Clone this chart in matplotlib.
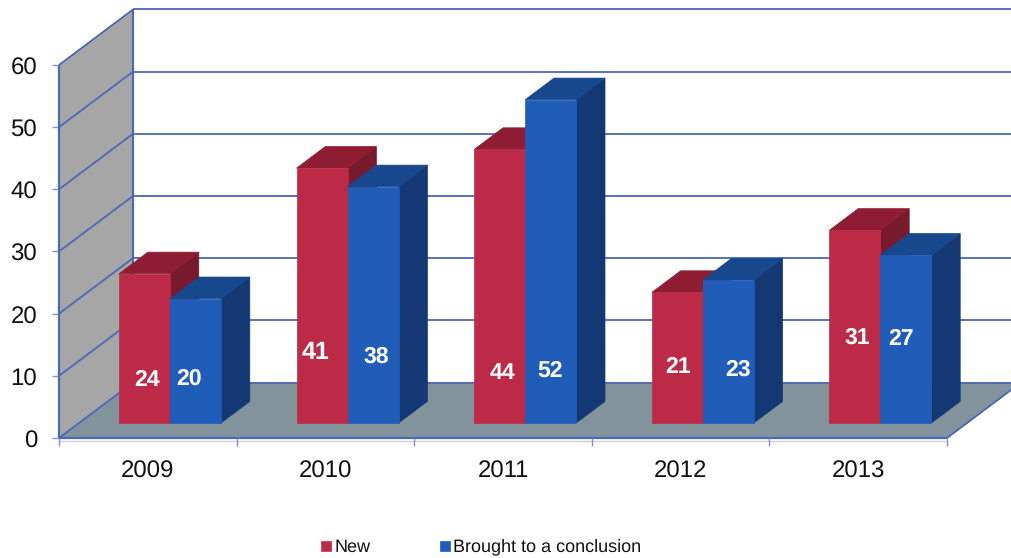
import matplotlib
matplotlib.use('Agg')
import matplotlib.pyplot as plt

plt.rcParams['font.family'] = ['Liberation Sans', 'DejaVu Sans']
plt.rcParams['text.hinting'] = 'no_hinting'
plt.rcParams['text.hinting_factor'] = 1

years = ['2009', '2010', '2011', '2012', '2013']
new_vals = [24, 41, 44, 21, 31]
concl_vals = [20, 38, 52, 23, 27]
y_ticks = [0, 10, 20, 30, 40, 50, 60]
legend_names = ['New', 'Brought to a conclusion']

# picture layout, in pixels
W, H = 1011, 558
X0, Y0 = 59, 438
CAT_W = 177.6
UNIT = 6.217
DEPTH_X, DEPTH_Y = 74.0, 55.5

# label centres in pixels, the original has them hand placed
new_label_px = [(147, 380), (316, 353), (502, 373), (678, 367), (857, 338)]
concl_label_px = [(189, 379), (376, 357), (550, 371), (738, 370), (901, 339)]

LINE = '#4A68B8'
WALL = '#A6A6A6'
FLOOR = '#82939B'
RED = ('#BC2A47', '#8E1D33', '#781A2E')
BLUE = ('#205DB8', '#17478C', '#133873')

fig = plt.figure(figsize=(W / 100, H / 100), dpi=100)
ax = fig.add_axes([0, 0, 1, 1])
ax.set_xlim(-X0 / CAT_W, (W - X0) / CAT_W)
ax.set_ylim(-(H - Y0) / UNIT, Y0 / UNIT)
ax.axis('off')


def pt(x, y, d=0.0):
    # x in categories, y in chart values, d is depth 0..1 into the chart
    return (x + d * DEPTH_X / CAT_W, y + d * DEPTH_Y / UNIT)


def px(x, y):
    return ((x - X0) / CAT_W, (Y0 - y) / UNIT)


def poly(points, color, z=1, edge=None):
    xs = [p[0] for p in points]
    ys = [p[1] for p in points]
    ax.fill(xs, ys, facecolor=color, edgecolor=edge if edge else color, lw=0.5, zorder=z)


def line(a, b, z=2, lw=1.5, color=LINE):
    ax.plot([a[0], b[0]], [a[1], b[1]], color=color, lw=lw, zorder=z, solid_capstyle='butt')


n = len(years)
top = max(y_ticks)
far = 6.0

# walls and floor
poly([pt(0, 0), pt(0, top), pt(0, top, 1), pt(0, 0, 1)], WALL)
poly([pt(0, 0), pt(n, 0), pt(n, 0, 1), pt(far, 0, 1), pt(0, 0, 1)], FLOOR)

for v in y_ticks:
    line(pt(0, v), pt(0, v, 1), lw=1.3)
    line(pt(0, v, 1), pt(far, v, 1), lw=1.3)
    line(pt(-7 / CAT_W, v), pt(0, v), lw=1.0, color='#7F93CC')
    ax.text(px(37, 0)[0], v - 3.5 / UNIT, str(v), ha='right', va='center', fontsize=17, color='#111111', zorder=5)

line(pt(0, 0), pt(0, top), lw=1.6)
line(pt(0, 0, 1), pt(0, top, 1), lw=1.5)
line(pt(0, 0), pt(n, 0), lw=1.6)
line(pt(n, 0), pt(n, 0, 1), lw=1.3)
ax.plot([0, n], [-0.45, -0.45], color='#D0D0D0', lw=1.0, zorder=1)

for i in range(n + 1):
    line((i, 0), (i, -8 / UNIT), lw=1.0, color='#7F93CC')

for i, y in enumerate(years):
    ax.text(i + 0.5, px(0, 472)[1], y, ha='center', va='center', fontsize=17, color='#111111', zorder=5)

# bars
D_FRONT = 0.27
D_BACK = 0.66
BAR_W = 51 / CAT_W


def bar(x, val, colors):
    front, roof, side = colors
    d0, d1 = D_FRONT, D_BACK
    poly([pt(x + BAR_W, 0, d0), pt(x + BAR_W, val, d0), pt(x + BAR_W, val, d1), pt(x + BAR_W, 0, d1)], side, z=3)
    poly([pt(x, val, d0), pt(x + BAR_W, val, d0), pt(x + BAR_W, val, d1), pt(x, val, d1)], roof, z=3)
    poly([pt(x, 0, d0), pt(x + BAR_W, 0, d0), pt(x + BAR_W, val, d0), pt(x, val, d0)], front, z=3)


for i in range(n):
    x1 = i + 0.225
    bar(x1, new_vals[i], RED)
    bar(x1 + BAR_W, concl_vals[i], BLUE)

# bar labels
for i in range(n):
    for val, pos in ((new_vals[i], new_label_px[i]), (concl_vals[i], concl_label_px[i])):
        lx, ly = px(pos[0], pos[1])
        size = 18 if val == 41 else 16.5
        ax.text(lx, ly, str(val), color='white', fontsize=size, fontweight='bold', ha='center', va='center', zorder=6)

# legend
for name, col, box_x, txt_x in ((legend_names[0], RED[0], 321, 335), (legend_names[1], BLUE[0], 440, 453)):
    a = px(box_x, 541)
    b = px(box_x + 10, 551)
    poly([a, (b[0], a[1]), b, (a[0], b[1])], col, z=5)
    ax.text(px(txt_x, 0)[0], px(0, 547)[1], name, ha='left', va='center', fontsize=12.9, color='#111111', zorder=5)

fig.savefig('out.png', dpi=100)
